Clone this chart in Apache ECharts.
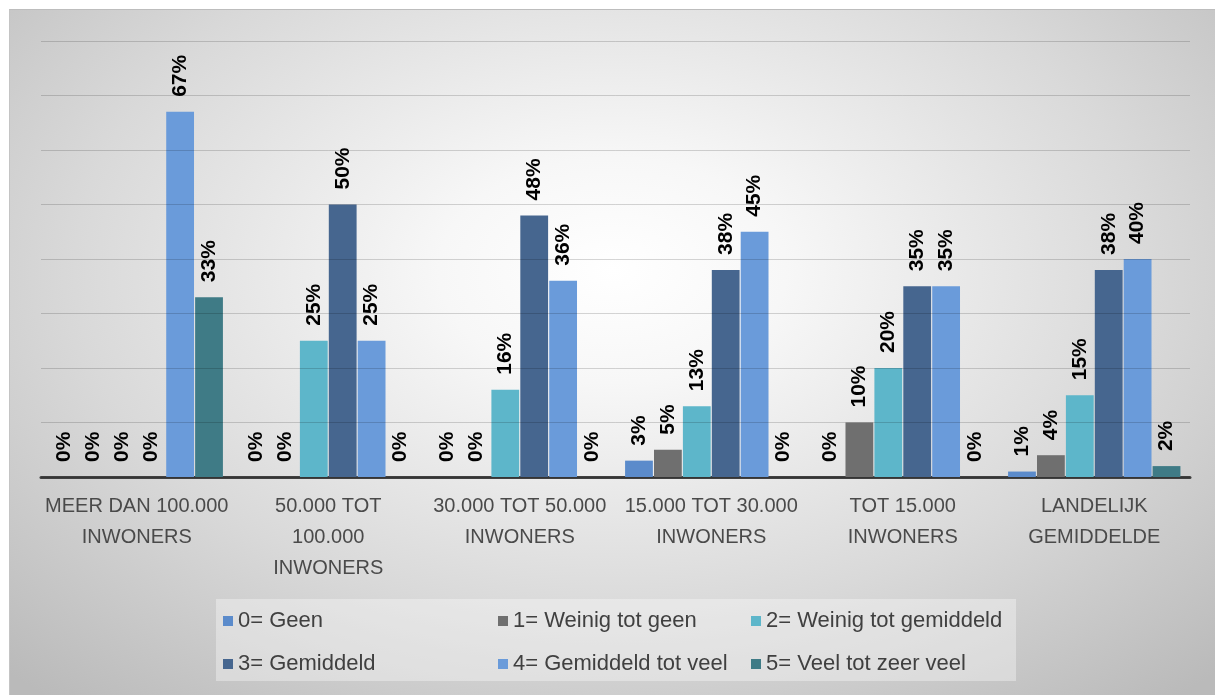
<!DOCTYPE html>
<html>
<head>
<meta charset="utf-8">
<script src="https://cdn.jsdelivr.net/npm/echarts@6/dist/echarts.min.js"></script>
<style>
  html, body { margin: 0; padding: 0; background: #ffffff; }
  #chart {
    position: absolute; left: 9px; top: 9px; width: 1206px; height: 686px;
    background: radial-gradient(ellipse 72% 82% at 50% 38%, #ffffff 0%, #f7f7f7 20%, #d9d9d9 62%, #bababa 100%);
    border-top: 1px solid #bdbdbd; border-left: 1px solid #c4c4c4; box-sizing: border-box;
  }
</style>
</head>
<body>
<div id="chart"></div>
<script>
const categories = [
  'MEER DAN 100.000\nINWONERS',
  '50.000 TOT\n100.000\nINWONERS',
  '30.000 TOT 50.000\nINWONERS',
  '15.000 TOT 30.000\nINWONERS',
  'TOT 15.000\nINWONERS',
  'LANDELIJK\nGEMIDDELDE'
];
const seriesNames = [
  '0= Geen',
  '1= Weinig tot geen',
  '2= Weinig tot gemiddeld',
  '3= Gemiddeld',
  '4= Gemiddeld tot veel',
  '5= Veel tot zeer veel'
];
const geen               = [0, 0, 0, 3, 0, 1];
const weinigTotGeen      = [0, 0, 0, 5, 10, 4];
const weinigTotGemiddeld = [0, 25, 16, 13, 20, 15];
const gemiddeld          = [0, 50, 48, 38, 35, 38];
const gemiddeldTotVeel   = [67, 25, 36, 45, 35, 40];
const veelTotZeerVeel    = [33, 0, 0, 0, 0, 2];
const yTicks = [0, 10, 20, 30, 40, 50, 60, 70, 80];

const seriesValues = [geen, weinigTotGeen, weinigTotGemiddeld, gemiddeld, gemiddeldTotVeel, veelTotZeerVeel];
const colors = ['#5b8bcb', '#6f6f6f', '#5db6ca', '#46668f', '#6a9bda', '#3f7b86'];

const chart = echarts.init(document.getElementById('chart'), null, { renderer: 'canvas' });

const legendPos = [
  [213, 600], [488, 600], [741, 600],
  [213, 643], [488, 643], [741, 643]
];

const option = {
  backgroundColor: 'transparent',
  animation: false,
  graphic: [{
    type: 'rect', left: 206, top: 589, shape: { width: 800, height: 82 },
    style: { fill: 'rgba(255,255,255,0.35)' }, z: -1
  }],
  legend: seriesNames.map((n, i) => ({
    data: [n], left: legendPos[i][0], top: legendPos[i][1], padding: 0,
    icon: 'rect', itemWidth: 10, itemHeight: 10,
    textStyle: { fontFamily: 'Liberation Sans', fontSize: 22, color: '#404040', lineHeight: 22 },
    selectedMode: false
  })),
  grid: { left: 31, right: 25, top: 31, bottom: 218 },
  xAxis: {
    type: 'category', data: categories,
    axisLine: { lineStyle: { color: '#404040', width: 3 } },
    axisTick: { show: false },
    axisLabel: {
      interval: 0, margin: 14, fontFamily: 'Liberation Sans', fontSize: 20,
      color: '#4a4a4a', lineHeight: 31, align: 'center'
    }
  },
  yAxis: {
    type: 'value', min: yTicks[0], max: yTicks[yTicks.length - 1], interval: 10,
    z: 5,
    axisLine: { show: false }, axisTick: { show: false }, axisLabel: { show: false },
    splitLine: { lineStyle: { color: 'rgba(0,0,0,0.16)', width: 1 } }
  },
  series: seriesNames.map((n, i) => ({
    name: n, type: 'bar', data: seriesValues[i],
    barCategoryGap: '10%', barGap: '4%',
    itemStyle: { color: colors[i] },
    label: {
      show: true, position: 'top', rotate: 90, distance: 15,
      align: 'left', verticalAlign: 'middle',
      formatter: '{c}%', fontFamily: 'Liberation Sans', fontWeight: 'bold',
      fontSize: 21, color: '#000000'
    }
  }))
};
chart.setOption(option);
</script>
</body>
</html>
